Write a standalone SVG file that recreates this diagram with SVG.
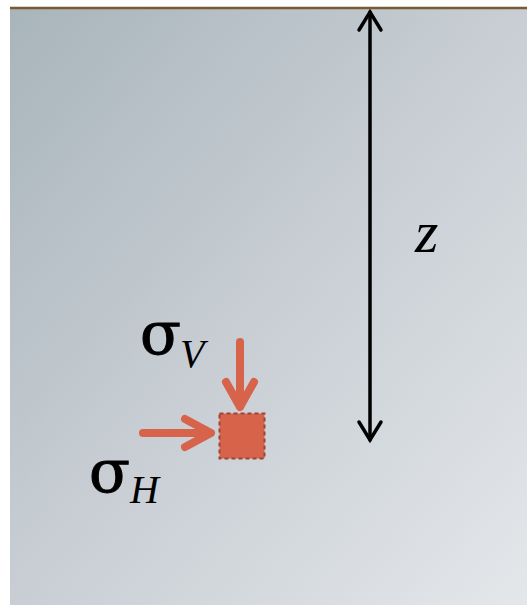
<svg xmlns="http://www.w3.org/2000/svg" width="527" height="605" viewBox="0 0 527 605">
<defs>
<linearGradient id="bg" x1="0" y1="0" x2="1" y2="1">
<stop offset="0" stop-color="#a8b5bb"/>
<stop offset="0.5" stop-color="#c8ced4"/>
<stop offset="1" stop-color="#e4e7ea"/>
</linearGradient>
<style>
.red{stroke:#d6634a;stroke-width:8;fill:none;stroke-linecap:round;stroke-linejoin:round}
.blk{stroke:#000;stroke-width:3.5;fill:none;stroke-linecap:round;stroke-linejoin:miter}
.sig{font-family:"DejaVu Serif",serif;font-size:60px;fill:#000;stroke:#000;stroke-width:1}
.sub{font-family:"Liberation Serif",serif;font-style:italic;font-size:40px;fill:#000}
</style>
</defs>
<rect x="10" y="8" width="517" height="597" fill="url(#bg)"/>
<line x1="10" y1="8" x2="527" y2="8" stroke="#7a5a32" stroke-width="2.5"/>
<g id="connectors">
<g id="depth-arrow">
<line class="blk" x1="370" y1="12" x2="370" y2="440"/>
<polyline class="blk" points="359,30 370,12 381,30"/>
<polyline class="blk" points="359,422 370,440 381,422"/>
</g>
<g id="sigmaV-arrow">
<line class="red" x1="240" y1="342" x2="240" y2="406"/>
<polyline class="red" points="226,382 240,407 254,382"/>
</g>
<g id="sigmaH-arrow">
<line class="red" x1="143" y1="433" x2="210" y2="433"/>
<polyline class="red" points="185,419 211,433 185,447"/>
</g>
</g>
<g id="element">
<rect x="219.5" y="413.5" width="45" height="45" fill="#d6634a" stroke="#9e4434" stroke-width="2" stroke-dasharray="4 3"/>
</g>
<g id="label-z">
<text x="415" y="252" font-family="Liberation Serif,serif" font-style="italic" font-size="60" fill="#000">z</text>
</g>
<g id="label-sigmaV">
<text x="140" y="354" class="sig">σ</text>
<text x="180" y="367" class="sub">V</text>
</g>
<g id="label-sigmaH">
<text x="89" y="492" class="sig">σ</text>
<text x="130" y="503" class="sub">H</text>
</g>
</svg>
